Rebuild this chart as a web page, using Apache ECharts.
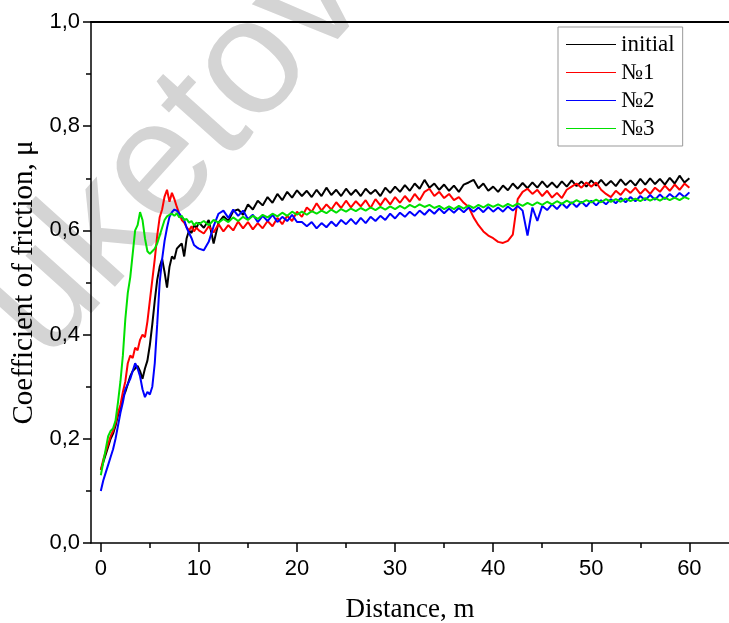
<!DOCTYPE html>
<html>
<head>
<meta charset="utf-8">
<script src="https://cdn.jsdelivr.net/npm/echarts@6/dist/echarts.min.js"></script>
<style>
html,body{margin:0;padding:0;background:#fff;}
#chart{width:729px;height:623px;}
</style>
</head>
<body>
<div id="chart"></div>
<script>
// Distance, m
const distance = [
 0,0.25,0.5,0.75,1,1.25,1.5,1.75,2,2.25,2.5,2.75,3,3.25,3.5,3.75,4,4.25,4.5,4.75,
 5,5.25,5.5,5.75,6,6.25,6.5,6.75,7,7.25,7.5,7.75,8,8.25,8.5,8.75,9,9.25,9.5,9.75,10,
 10.5,11,11.5,12,12.5,13,13.5,14,14.5,15,
 15.5,16,16.5,17,17.5,18,18.5,19,19.5,20,
 20.5,21,21.5,22,22.5,23,23.5,24,24.5,25,
 25.5,26,26.5,27,27.5,28,28.5,29,29.5,30,
 30.5,31,31.5,32,32.5,33,33.5,34,34.5,35,
 35.5,36,36.5,37,37.5,38,38.5,39,39.5,40,
 40.5,41,41.5,42,42.5,43,43.5,44,44.5,45,
 45.5,46,46.5,47,47.5,48,48.5,49,49.5,50,
 50.5,51,51.5,52,52.5,53,53.5,54,54.5,55,
 55.5,56,56.5,57,57.5,58,58.5,59,59.5,60
];
const initial = [
 0.14,0.155,0.17,0.185,0.2,0.21,0.225,0.245,0.26,0.28,0.29,0.305,0.32,0.33,0.335,0.34,0.33,0.315,0.335,0.35,
 0.38,0.42,0.465,0.505,0.53,0.545,0.52,0.49,0.53,0.55,0.545,0.565,0.57,0.575,0.55,0.585,0.6,0.595,0.61,0.605,0.615,
 0.605,0.62,0.575,0.615,0.627,0.618,0.637,0.64,0.63,0.65,
 0.64,0.657,0.648,0.664,0.653,0.67,0.658,0.674,0.663,0.677,
 0.666,0.676,0.664,0.678,0.666,0.682,0.668,0.678,0.666,0.68,
 0.668,0.678,0.666,0.68,0.67,0.678,0.666,0.682,0.672,0.684,
 0.674,0.687,0.676,0.69,0.68,0.697,0.682,0.69,0.678,0.688,
 0.676,0.686,0.674,0.688,0.692,0.697,0.681,0.69,0.676,0.684,
 0.674,0.686,0.677,0.69,0.68,0.691,0.681,0.692,0.682,0.694,
 0.683,0.692,0.682,0.694,0.684,0.696,0.685,0.694,0.684,0.696,
 0.686,0.697,0.686,0.695,0.685,0.698,0.687,0.696,0.686,0.699,
 0.688,0.7,0.689,0.699,0.688,0.701,0.69,0.705,0.692,0.7
];
const sample1 = [
 0.14,0.16,0.175,0.19,0.205,0.215,0.23,0.25,0.265,0.29,0.31,0.345,0.36,0.355,0.375,0.37,0.39,0.4,0.395,0.425,
 0.465,0.505,0.545,0.59,0.625,0.64,0.665,0.678,0.655,0.672,0.66,0.645,0.632,0.62,0.615,0.606,0.6,0.608,0.598,0.605,0.6,
 0.594,0.608,0.596,0.612,0.598,0.61,0.6,0.617,0.604,0.616,
 0.602,0.614,0.604,0.618,0.608,0.624,0.612,0.628,0.618,0.636,
 0.626,0.644,0.636,0.652,0.638,0.65,0.64,0.654,0.643,0.657,
 0.644,0.656,0.646,0.658,0.643,0.66,0.648,0.662,0.65,0.664,
 0.653,0.666,0.655,0.67,0.658,0.674,0.68,0.666,0.674,0.662,
 0.67,0.658,0.664,0.653,0.645,0.625,0.61,0.598,0.59,0.585,
 0.578,0.576,0.58,0.592,0.66,0.674,0.68,0.67,0.678,0.666,
 0.676,0.663,0.672,0.662,0.678,0.684,0.69,0.682,0.692,0.684,
 0.692,0.678,0.67,0.664,0.676,0.668,0.68,0.672,0.682,0.67,
 0.68,0.67,0.682,0.674,0.686,0.676,0.688,0.678,0.69,0.682
];
const sample2 = [
 0.1,0.12,0.135,0.15,0.165,0.18,0.2,0.225,0.25,0.27,0.295,0.305,0.315,0.33,0.345,0.335,0.32,0.295,0.28,0.29,
 0.285,0.3,0.345,0.42,0.5,0.545,0.58,0.605,0.626,0.635,0.64,0.638,0.632,0.626,0.62,0.605,0.595,0.585,0.572,0.568,0.565,
 0.562,0.578,0.608,0.632,0.638,0.624,0.64,0.628,0.638,0.622,
 0.63,0.616,0.628,0.618,0.63,0.616,0.626,0.618,0.63,0.616,
 0.616,0.608,0.616,0.604,0.614,0.606,0.617,0.608,0.62,0.612,
 0.622,0.612,0.624,0.614,0.626,0.618,0.628,0.62,0.632,0.623,
 0.634,0.626,0.636,0.628,0.638,0.63,0.64,0.632,0.642,0.633,
 0.642,0.634,0.643,0.635,0.644,0.636,0.644,0.635,0.645,0.636,
 0.644,0.636,0.646,0.638,0.647,0.638,0.59,0.644,0.618,0.647,
 0.639,0.65,0.641,0.652,0.643,0.654,0.645,0.655,0.646,0.657,
 0.648,0.658,0.65,0.66,0.652,0.662,0.654,0.664,0.656,0.666,
 0.658,0.668,0.659,0.669,0.66,0.67,0.662,0.672,0.664,0.673
];
const sample3 = [
 0.13,0.155,0.18,0.205,0.215,0.22,0.235,0.27,0.31,0.36,0.43,0.48,0.51,0.555,0.6,0.61,0.635,0.62,0.585,0.56,
 0.555,0.56,0.565,0.575,0.59,0.605,0.62,0.627,0.63,0.632,0.628,0.633,0.625,0.628,0.62,0.622,0.615,0.618,0.61,0.615,0.612,
 0.618,0.61,0.62,0.615,0.622,0.616,0.625,0.618,0.626,0.62,
 0.628,0.622,0.63,0.625,0.632,0.627,0.634,0.628,0.636,0.63,
 0.636,0.63,0.637,0.632,0.638,0.633,0.64,0.634,0.641,0.636,
 0.642,0.637,0.643,0.638,0.644,0.639,0.645,0.64,0.646,0.641,
 0.647,0.642,0.649,0.644,0.65,0.645,0.649,0.643,0.647,0.641,
 0.646,0.641,0.647,0.642,0.648,0.643,0.649,0.644,0.65,0.645,
 0.65,0.645,0.651,0.646,0.652,0.647,0.653,0.648,0.654,0.649,
 0.655,0.65,0.656,0.651,0.657,0.652,0.658,0.653,0.658,0.654,
 0.659,0.654,0.66,0.655,0.66,0.655,0.661,0.656,0.661,0.656,
 0.662,0.657,0.662,0.657,0.663,0.658,0.663,0.658,0.664,0.66
];
const seriesNames = ['initial', '№1', '№2', '№3'];
const seriesColors = ['#000000', '#ff0000', '#0000ff', '#00e000'];
const seriesValues = [initial, sample1, sample2, sample3];
const xMajorTicks = [0, 10, 20, 30, 40, 50, 60];
const xMinorTicks = [5, 15, 25, 35, 45, 55];

const chart = echarts.init(document.getElementById('chart'), null, {renderer: 'canvas'});
const sansFont = 'Liberation Sans';
const serifFont = 'Liberation Serif';
const xMin = -1, xMax = 64.04;

const option = {
  animation: false,
  backgroundColor: '#fff',
  graphic: [{
    type: 'text', x: 175, y: 152, rotation: 48 * Math.PI / 180, z: -10, silent: true,
    style: {text: 'uketov', font: '165px "Liberation Sans"', fill: '#d4d4d4', align: 'center', verticalAlign: 'middle'}
  }],
  grid: {left: 91, top: 22, right: 0, bottom: 80, show: false, containLabel: false, outerBoundsMode: 'none'},
  legend: {
    orient: 'vertical', left: 558, top: 27,
    padding: [6, 8, 6, 8], itemGap: 5, itemWidth: 50, itemHeight: 1,
    icon: 'rect',
    backgroundColor: '#fff', borderColor: '#999', borderWidth: 1,
    textStyle: {fontFamily: serifFont, fontSize: 23, color: '#000'},
    data: seriesNames
  },
  xAxis: [{
    type: 'value', min: xMin, max: xMax,
    name: 'Distance, m', nameLocation: 'middle', nameGap: 53,
    nameTextStyle: {fontFamily: serifFont, fontSize: 27, color: '#000'},
    axisLine: {show: true, onZero: false, lineStyle: {color: '#000', width: 1.5}},
    axisTick: {show: true, inside: false, length: 9, customValues: xMajorTicks, lineStyle: {color: '#000', width: 1.5}},
    axisLabel: {show: true, margin: 15, customValues: xMajorTicks, fontFamily: sansFont, fontSize: 22, color: '#000'},
    splitLine: {show: false}
  }, {
    type: 'value', min: xMin, max: xMax, position: 'bottom',
    axisLine: {show: false},
    axisTick: {show: true, inside: false, length: 5, customValues: xMinorTicks, lineStyle: {color: '#000', width: 1.5}},
    axisLabel: {show: false},
    splitLine: {show: false}
  }, {
    type: 'value', min: xMin, max: xMax, position: 'top',
    axisLine: {show: true, onZero: false, lineStyle: {color: '#000', width: 2}},
    axisTick: {show: false}, axisLabel: {show: false}, splitLine: {show: false}
  }],
  yAxis: {
    type: 'value', min: 0, max: 1, interval: 0.2,
    name: 'Coefficient of friction, μ', nameLocation: 'middle', nameGap: 49,
    nameTextStyle: {fontFamily: serifFont, fontSize: 29, color: '#000'},
    axisLine: {show: true, onZero: false, lineStyle: {color: '#000', width: 1.5}},
    axisTick: {show: true, inside: false, length: 8, lineStyle: {color: '#000', width: 1.5}},
    minorTick: {show: true, splitNumber: 2, length: 5, lineStyle: {color: '#000', width: 1.5}},
    axisLabel: {margin: 11, fontFamily: sansFont, fontSize: 22, color: '#000',
      formatter: v => v.toFixed(1).replace('.', ',')},
    splitLine: {show: false}, minorSplitLine: {show: false}
  },
  series: seriesNames.map((name, i) => ({
    name: name, type: 'line', xAxisIndex: 0, symbol: 'none', showSymbol: false,
    color: seriesColors[i],
    lineStyle: {width: 2, color: seriesColors[i]},
    z: 2 + i,
    data: distance.map((d, k) => [d, seriesValues[i][k]])
  }))
};
chart.setOption(option);
</script>
</body>
</html>
